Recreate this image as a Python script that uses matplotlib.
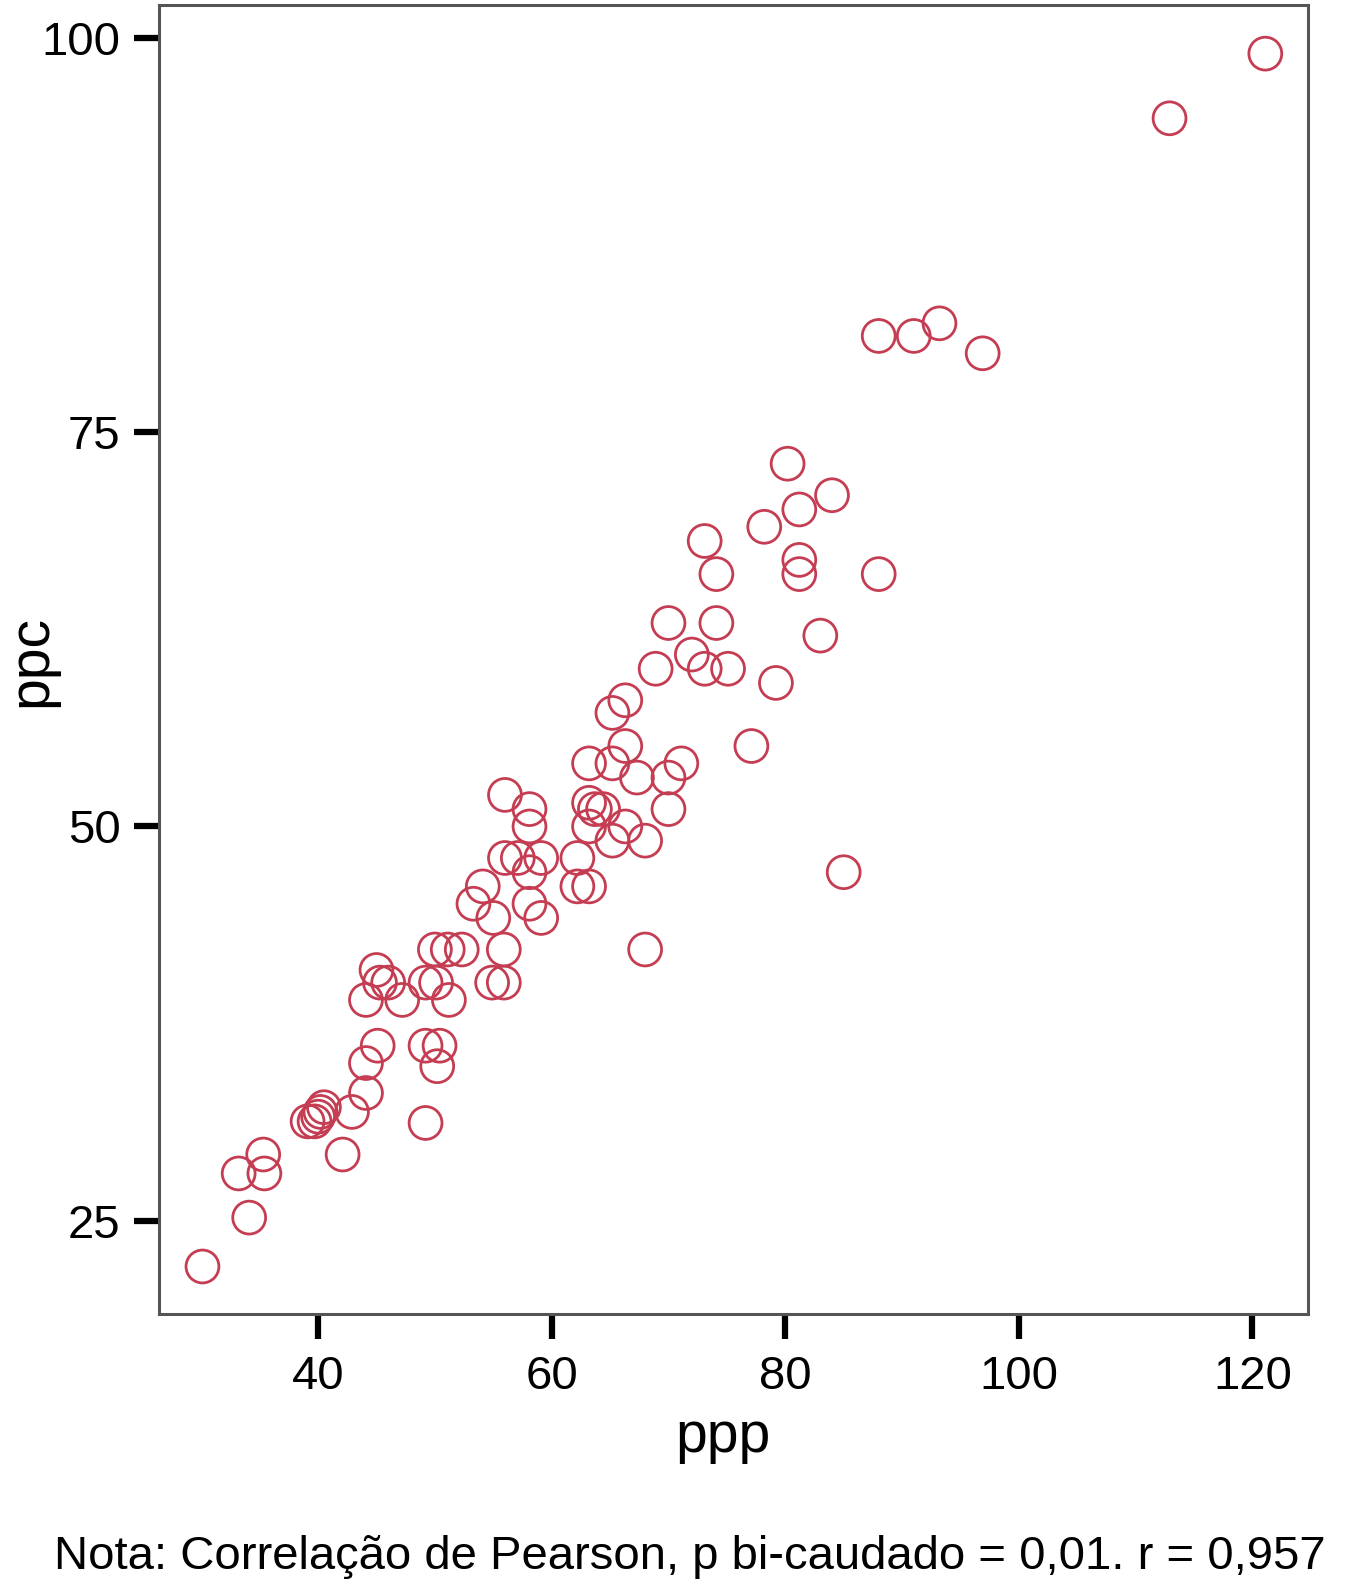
import matplotlib
matplotlib.use("Agg")
import matplotlib.pyplot as plt

plt.rcParams['font.family'] = ['Liberation Sans', 'DejaVu Sans']

# ppp (x) vs ppc (y)
ppp = [30.1, 34.1, 33.2, 35.4, 35.3, 39.1, 39.7, 40.2, 40.5, 40.0,
       42.1, 42.9, 44.1, 44.1, 45.1, 44.1, 45.0, 45.3, 46.0, 47.2,
       49.2, 50.1, 51.2, 50.0, 51.1, 52.3, 49.2, 50.4, 50.2, 49.2,
       54.9, 55.9, 55.9, 53.3, 54.1, 55.0, 56.0, 56.0, 57.1, 58.1,
       58.1, 58.1, 58.1, 59.1, 59.1, 62.2, 62.2, 63.2, 63.2, 63.2,
       63.2, 63.7, 64.4, 65.2, 65.2, 65.2, 66.3, 66.3, 66.3, 67.3,
       68.0, 68.0, 68.9, 70.0, 70.0, 70.0, 71.1, 72.0, 73.1, 73.1,
       74.1, 74.1, 75.1, 77.1, 78.2, 79.2, 80.2, 81.2, 81.2, 81.2,
       83.0, 84.0, 85.0, 88.0, 88.0, 91.0, 93.2, 96.9, 112.9, 121.1]
ppc = [22.1, 25.2, 28.0, 28.0, 29.2, 31.3, 31.3, 31.9, 32.2, 31.6,
       29.2, 31.9, 33.1, 35.0, 36.1, 39.0, 40.9, 40.1, 40.1, 39.0,
       40.1, 40.1, 39.0, 42.2, 42.2, 42.2, 36.1, 36.1, 34.8, 31.2,
       40.1, 40.1, 42.2, 45.1, 46.2, 44.2, 52.0, 48.0, 48.0, 51.1,
       50.0, 47.1, 45.1, 48.0, 44.2, 48.0, 46.2, 46.2, 54.0, 51.5,
       50.0, 51.1, 51.1, 49.1, 54.0, 57.2, 58.0, 55.1, 50.0, 53.1,
       49.1, 42.2, 60.0, 62.9, 51.1, 53.1, 54.0, 60.9, 60.0, 68.1,
       66.0, 62.9, 60.0, 55.1, 69.0, 59.1, 73.0, 70.1, 66.9, 66.0,
       62.1, 71.0, 47.1, 81.1, 66.0, 81.1, 81.9, 80.0, 94.9, 99.0]

x_ticks = [40, 60, 80, 100, 120]
y_ticks = [25, 50, 75, 100]

fig = plt.figure(figsize=(13.53, 15.81), dpi=100)
ax = fig.add_axes([0.1177, 0.169, 0.849, 0.828])

ax.scatter(ppp, ppc, s=560, facecolors='none', edgecolors='#c53d52', linewidths=2.0)

ax.set_xlim(26.4, 124.75)
ax.set_ylim(19.1, 102.1)
ax.set_xticks(x_ticks)
ax.set_yticks(y_ticks)
ax.tick_params(axis='both', direction='out', length=18, width=4.5, color='black',
               labelsize=34)
ax.tick_params(axis='x', pad=12)
ax.tick_params(axis='y', pad=10)
for side in ['left', 'bottom', 'right', 'top']:
    ax.spines[side].set_color('#555555')
    ax.spines[side].set_linewidth(2.2)

# axis titles placed by hand, like the original export
fig.text(0.534, 0.0816, 'ppp', fontsize=41, ha='center', va='baseline')
fig.text(0.003, 0.582, 'ppc', fontsize=41, rotation=90, ha='left', va='center')

fig.text(0.04, 0.0075, 'Nota: Correlação de Pearson, p bi-caudado = 0,01. r = 0,957',
         fontsize=34, ha='left', va='baseline')

fig.savefig('out.png', dpi=100)
